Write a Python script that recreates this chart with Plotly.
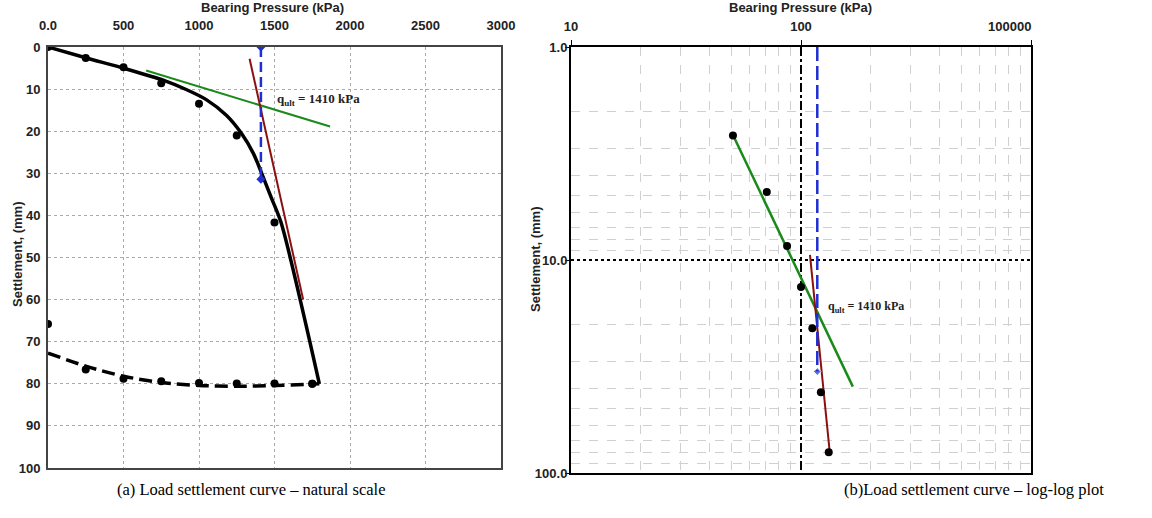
import plotly.graph_objects as go
import math

# ---------------- data: (a) natural scale ----------------
load_kpa = [0, 250, 500, 750, 1000, 1250, 1500, 1750]
load_settle = [0, 2.6, 4.8, 8.6, 13.5, 21.0, 41.7, 80.0]
unload_kpa = [1750, 1500, 1250, 1000, 750, 500, 250, 0]
unload_settle = [80.0, 79.9, 79.9, 79.8, 79.4, 78.8, 76.6, 65.8]

fit_kpa = [0, 255, 512, 767, 915, 1048, 1181, 1283, 1359, 1414, 1480, 1543, 1797]
fit_settle = [0, 2.62, 5.15, 7.93, 10.1, 12.5, 16.2, 20.6, 25.2, 29.9, 35.9, 41.65, 80.0]

unfit_kpa = [0, 250, 500, 750, 1000, 1250, 1500, 1797]
unfit_settle = [72.7, 75.8, 78.2, 79.7, 80.4, 80.6, 80.4, 80.0]

green_kpa = [650, 1868]
green_settle = [5.6, 18.9]
red_kpa = [1335, 1690]
red_settle = [2.8, 60.0]
qult_kpa = [1410, 1410]
qult_settle = [0, 31.4]

x1_ticks = [0, 500, 1000, 1500, 2000, 2500, 3000]
x1_text = ["0.0", "500", "1000", "1500", "2000", "2500", "3000"]
y1_ticks = [0, 10, 20, 30, 40, 50, 60, 70, 80, 90, 100]

# ---------------- data: (b) log-log ----------------
log_kpa = [50.6, 71, 87, 100, 112, 122, 132]
log_settle = [2.6, 4.8, 8.6, 13.4, 20.9, 41.8, 80.0]
green_log_kpa = [50.6, 168]
green_log_settle = [2.59, 39.3]
red_log_kpa = [109.4, 133.5]
red_log_settle = [9.47, 80.8]
qult_log_kpa = [117.7, 117.7]
qult_log_settle = [1.0, 33.4]

x2_ticks = [10, 100, 1000]
x2_text = ["10", "100", ""]
x2_last_label = "100000"
x2_minor = [20, 30, 40, 50, 60, 70, 80, 90, 200, 300, 400, 500, 600, 700, 800, 900]
y2_ticks = [1, 10, 100]
y2_text = ["1.0", "10.0", "100.0"]
y2_minor = [2, 3, 4, 5, 6, 7, 8, 9, 20, 30, 40, 50, 60, 70, 80, 90]

W, H = 1152, 518
def px_x(p):
    return p / W
def px_y(p):
    return 1 - p / H

fig = go.Figure()

# ---- left plot traces ----
fig.add_trace(go.Scatter(x=green_kpa, y=green_settle, mode="lines",
                         line=dict(color="#1a8a1a", width=2), xaxis="x", yaxis="y"))
fig.add_trace(go.Scatter(x=fit_kpa, y=fit_settle, mode="lines",
                         line=dict(color="black", width=3.5, shape="spline", smoothing=0.8),
                         xaxis="x", yaxis="y"))
fig.add_trace(go.Scatter(x=unfit_kpa, y=unfit_settle, mode="lines",
                         line=dict(color="black", width=3.5, dash="13px,6px", shape="spline", smoothing=0.8),
                         xaxis="x", yaxis="y"))
fig.add_trace(go.Scatter(x=red_kpa, y=red_settle, mode="lines",
                         line=dict(color="#8b1010", width=2), xaxis="x", yaxis="y"))
fig.add_trace(go.Scatter(x=qult_kpa, y=qult_settle, mode="lines+markers",
                         line=dict(color="#1f2fd0", width=2.5, dash="10px,5px"),
                         marker=dict(symbol="diamond", size=7, color="#1f2fd0"),
                         xaxis="x", yaxis="y"))
fig.add_trace(go.Scatter(x=load_kpa, y=load_settle, mode="markers",
                         marker=dict(color="black", size=8), xaxis="x", yaxis="y"))
fig.add_trace(go.Scatter(x=unload_kpa, y=unload_settle, mode="markers",
                         marker=dict(color="black", size=8), xaxis="x", yaxis="y"))

# ---- right plot traces ----
fig.add_trace(go.Scatter(x=green_log_kpa, y=green_log_settle, mode="lines",
                         line=dict(color="#1a8a1a", width=2.5), xaxis="x2", yaxis="y2"))
fig.add_trace(go.Scatter(x=red_log_kpa, y=red_log_settle, mode="lines",
                         line=dict(color="#8b1010", width=2), xaxis="x2", yaxis="y2"))
fig.add_trace(go.Scatter(x=qult_log_kpa, y=qult_log_settle, mode="lines+markers",
                         line=dict(color="#1f2fd0", width=2.5, dash="14px,5px"),
                         marker=dict(symbol="diamond", size=[0, 6], color="#1f2fd0"),
                         xaxis="x2", yaxis="y2"))
fig.add_trace(go.Scatter(x=log_kpa, y=log_settle, mode="markers",
                         marker=dict(color="black", size=8), xaxis="x2", yaxis="y2"))

tickfont = dict(family="Liberation Sans", size=13, color="#222", weight="bold")

fig.update_layout(
    width=W, height=H, margin=dict(l=0, r=0, t=0, b=0),
    paper_bgcolor="white", plot_bgcolor="white", showlegend=False,
    xaxis=dict(domain=[px_x(48), px_x(501)], range=[0, 3000], side="top", automargin=False,
               anchor="y", tickvals=x1_ticks, ticktext=x1_text, tickfont=tickfont,
               ticklabelstandoff=10,
               showgrid=True, gridcolor="#aaaaaa", griddash="dot", gridwidth=1.2,
               showline=True, linecolor="#444", linewidth=2, mirror=True,
               ticks="", zeroline=False),
    yaxis=dict(domain=[px_y(468), px_y(47)], range=[100, 0], anchor="x", automargin=False,
               tickvals=y1_ticks, tickfont=tickfont, ticklabelstandoff=3,
               showgrid=True, gridcolor="#aaaaaa", griddash="dot", gridwidth=1.2,
               showline=True, linecolor="#444", linewidth=2, mirror=True,
               ticks="", zeroline=False),
    xaxis2=dict(domain=[px_x(571), px_x(1031)], type="log", range=[1, 3], side="top",
                anchor="y2", automargin=False,
                tickvals=x2_ticks, ticktext=x2_text, tickfont=tickfont, ticklabelstandoff=4,
                showgrid=True, gridcolor="black", griddash="dashdot", gridwidth=1.5,
                minor=dict(tickvals=x2_minor, showgrid=True, gridcolor="#d0d0d0",
                           griddash="dash", gridwidth=1, ticks=""),
                showline=True, linecolor="black", linewidth=2, mirror=True,
                ticks="outside", ticklen=5, tickcolor="black", zeroline=False),
    yaxis2=dict(domain=[px_y(473), px_y(47)], type="log", range=[2, 0], anchor="x2",
                automargin=False,
                tickvals=y2_ticks, ticktext=y2_text, tickfont=tickfont, ticklabelstandoff=-5,
                showgrid=True, gridcolor="black", griddash="dot", gridwidth=1.5,
                minor=dict(tickvals=y2_minor, showgrid=True, gridcolor="#d0d0d0",
                           griddash="dash", gridwidth=1, ticks=""),
                showline=True, linecolor="black", linewidth=2, mirror=True,
                ticks="outside", ticklen=4, tickcolor="black", zeroline=False),
)

titlefont = dict(family="Liberation Sans", size=13, color="#222", weight="bold")
ann = [
    dict(text="Bearing Pressure (kPa)", x=px_x(272), y=px_y(8), xref="paper", yref="paper",
         showarrow=False, font=titlefont, xanchor="center", yanchor="middle"),
    dict(text="Bearing Pressure (kPa)", x=px_x(800), y=px_y(8), xref="paper", yref="paper",
         showarrow=False, font=titlefont, xanchor="center", yanchor="middle"),
    dict(text=x2_last_label, x=px_x(1033), y=px_y(26), xref="paper", yref="paper",
         showarrow=False, font=tickfont, xanchor="right", yanchor="middle"),
    dict(text="Settlement, (mm)", x=px_x(17), y=px_y(255), xref="paper", yref="paper",
         showarrow=False, font=titlefont, textangle=-90, xanchor="center", yanchor="middle"),
    dict(text="Settlement, (mm)", x=px_x(535), y=px_y(260), xref="paper", yref="paper",
         showarrow=False, font=titlefont, textangle=-90, xanchor="center", yanchor="middle"),
    dict(text="q<sub>ult</sub> = 1410 kPa", x=1500, y=12.5, xref="x", yref="y",
         showarrow=False, xanchor="left", yanchor="middle",
         font=dict(family="Liberation Serif", size=13, color="#222", weight="bold")),
    dict(text="q<sub>ult</sub> = 1410 kPa", x=math.log10(128), y=math.log10(16.6),
         xref="x2", yref="y2", showarrow=False, xanchor="left", yanchor="middle",
         font=dict(family="Liberation Serif", size=12, color="#222", weight="bold")),
    dict(text="(a) Load settlement curve \u2013 natural scale", x=px_x(251), y=px_y(489),
         xref="paper", yref="paper", showarrow=False, xanchor="center", yanchor="middle",
         font=dict(family="Liberation Serif", size=16.5, color="black")),
    dict(text="(b)Load settlement curve \u2013 log-log plot", x=px_x(974), y=px_y(489),
         xref="paper", yref="paper", showarrow=False, xanchor="center", yanchor="middle",
         font=dict(family="Liberation Serif", size=16.5, color="black")),
]
fig.update_layout(annotations=ann)

fig.write_html("out.html")
